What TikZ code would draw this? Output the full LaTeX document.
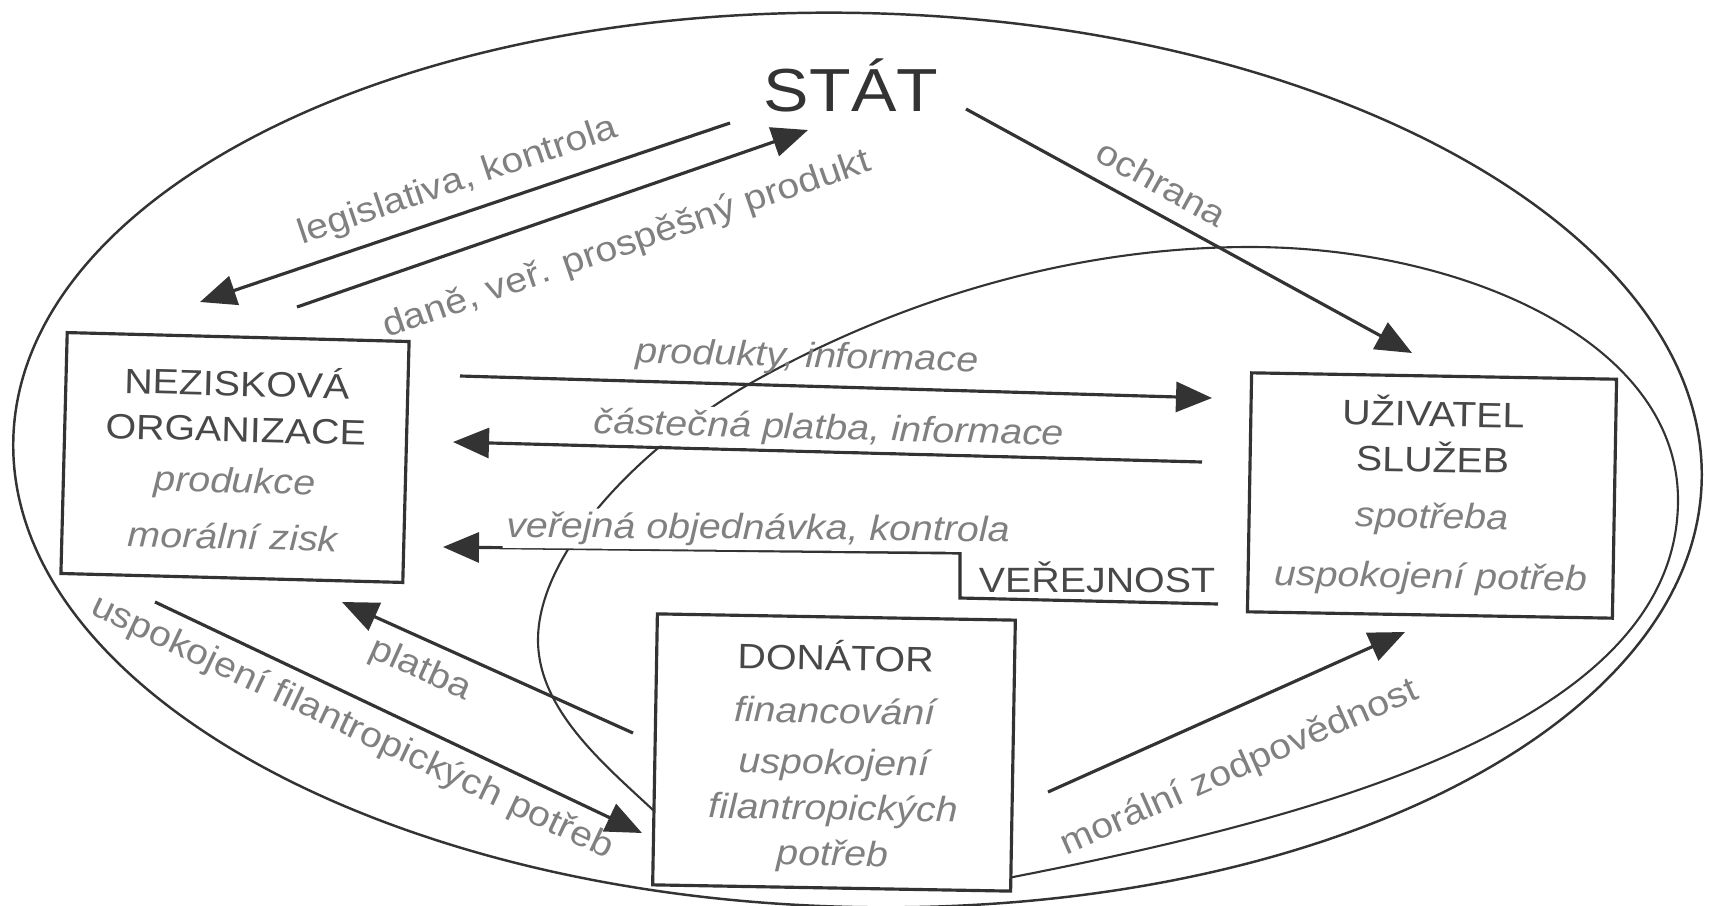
\documentclass[tikz,border=0pt]{standalone}
\usepackage{fontspec}
\setmainfont{Liberation Sans}[FakeStretch=1.12]
\usetikzlibrary{arrows.meta}

\newcommand{\boxtitle}{\color{titlecolor}\upshape}
\newcommand{\boxsub}{\color{labcolor}\itshape}

\begin{document}
\begin{tikzpicture}[>={Triangle[length=3.6mm,width=3mm]},
  box/.style={draw=linecolor, fill=white, line width=0.9pt, align=center, inner sep=0pt,
    font=\fontsize{10}{13}\selectfont},
  flow/.style={->, draw=linecolor, line width=0.9pt},
  lab/.style={text=labcolor, inner sep=1pt, font=\fontsize{10}{12}\selectfont},
  ilab/.style={lab, font=\fontsize{10}{12}\selectfont\itshape},
]

  % Colors
  \definecolor{linecolor}{HTML}{333333}
  \definecolor{titlecolor}{HTML}{484848}
  \definecolor{labcolor}{HTML}{808080}

  \useasboundingbox (0,0) rectangle (17.11,-9.06);

  % Outer ellipse and the inner (public) curve
  \draw[linecolor, line width=0.7pt] (8.575,-4.60) ellipse [x radius=8.445, y radius=4.47, rotate=-1.4];
  \draw[linecolor, line width=0.6pt] (6.53,-8.10)
    .. controls (6.05,-7.65) and (5.38,-7.10) .. (5.38,-6.40)
    .. controls (5.38,-5.50) and (6.46,-4.40) .. (7.60,-3.78)
    .. controls (9.00,-3.01) and (10.70,-2.47) .. (12.50,-2.47)
    .. controls (14.60,-2.47) and (16.78,-3.40) .. (16.78,-5.00)
    .. controls (16.78,-7.20) and (13.31,-8.15) .. (10.08,-8.78);

  % Boxes
  \node[font=\fontsize{17.3}{20}\selectfont, text=linecolor] (stat) at (8.51,-0.85) {STÁT};
  \node[box, minimum width=3.42cm, minimum height=2.41cm, rotate=-1.5] (nezisk) at (2.35,-4.575)
    {\boxtitle NEZISKOVÁ\\\boxtitle ORGANIZACE\\[1.5pt]\boxsub produkce\\[3pt]\boxsub morální zisk};
  \node[box, minimum width=3.65cm, minimum height=2.39cm, rotate=-1] (uziv) at (14.32,-4.955)
    {\boxtitle UŽIVATEL\\\boxtitle SLUŽEB\\[3pt]\boxsub spotřeba\\[4pt]\boxsub uspokojení potřeb};
  \node[box, minimum width=3.58cm, minimum height=2.71cm, rotate=-1] (donator) at (8.34,-7.525)
    {\rule{0pt}{11pt}\boxtitle DONÁTOR\\[2pt]\boxsub financování\\[1.5pt]\boxsub uspokojení\\\boxsub filantropických\\\boxsub potřeb};

  % Arrow ends
  \coordinate (legisS) at (7.30,-1.23);  \coordinate (legisE) at (2.00,-3.02);
  \coordinate (daneS) at (2.97,-3.07);   \coordinate (daneE) at (8.08,-1.30);
  \coordinate (ochrS) at (9.66,-1.09);   \coordinate (ochrE) at (14.12,-3.53);
  \coordinate (prodS) at (4.60,-3.76);   \coordinate (prodE) at (12.12,-3.98);
  \coordinate (castS) at (12.02,-4.62);  \coordinate (castE) at (4.53,-4.42);
  \coordinate (verS) at (12.18,-6.04);   \coordinate (verE) at (4.43,-5.47);
  \coordinate (verA) at (9.60,-5.98);    \coordinate (verB) at (9.60,-5.53);
  \coordinate (platS) at (6.33,-7.33);   \coordinate (platE) at (3.42,-6.02);
  \coordinate (uspS) at (1.55,-6.02);    \coordinate (uspE) at (6.42,-8.33);
  \coordinate (moralS) at (10.48,-7.92); \coordinate (moralE) at (14.05,-6.32);

  % Arrows
  \draw[flow] (legisS) -- (legisE);
  \draw[flow] (daneS) -- (daneE);
  \draw[flow] (ochrS) -- (ochrE);
  \draw[flow] (prodS) -- (prodE);
  \draw[flow] (castS) -- (castE);
  \draw[flow] (verS) -- (verA) -- (verB) -- (verE);
  \draw[flow] (platS) -- (platE);
  \draw[flow] (uspS) -- (uspE);
  \draw[flow] (moralS) -- (moralE);

  % Labels
  \node[lab, rotate=18.7] (legisL) at (4.58,-1.82) {legislativa, kontrola};
  \node[lab, rotate=19] (daneL) at (6.27,-2.45) {daně, veř. prospěšný produkt};
  \node[lab, rotate=-29] (ochrL) at (11.62,-1.83) {ochrana};
  \node[ilab, rotate=-1.5] (prodL) at (8.07,-3.58) {produkty, informace};
  \node[ilab, rotate=-1.5, fill=white] (castL) at (8.29,-4.30) {částečná platba, informace};
  \node[ilab, rotate=-0.5, fill=white] (verL) at (7.58,-5.30) {veřejná objednávka, kontrola};
  \node[lab, text=titlecolor] (verejL) at (10.97,-5.77) {VEŘEJNOST};
  \node[lab, rotate=-24.2] (platL) at (4.20,-6.70) {platba};
  \node[lab, rotate=-25.4] (uspL) at (3.52,-7.28) {uspokojení filantropických potřeb};
  \node[lab, rotate=24] (moralL) at (12.40,-7.68) {morální zodpovědnost};

\end{tikzpicture}
\end{document}
